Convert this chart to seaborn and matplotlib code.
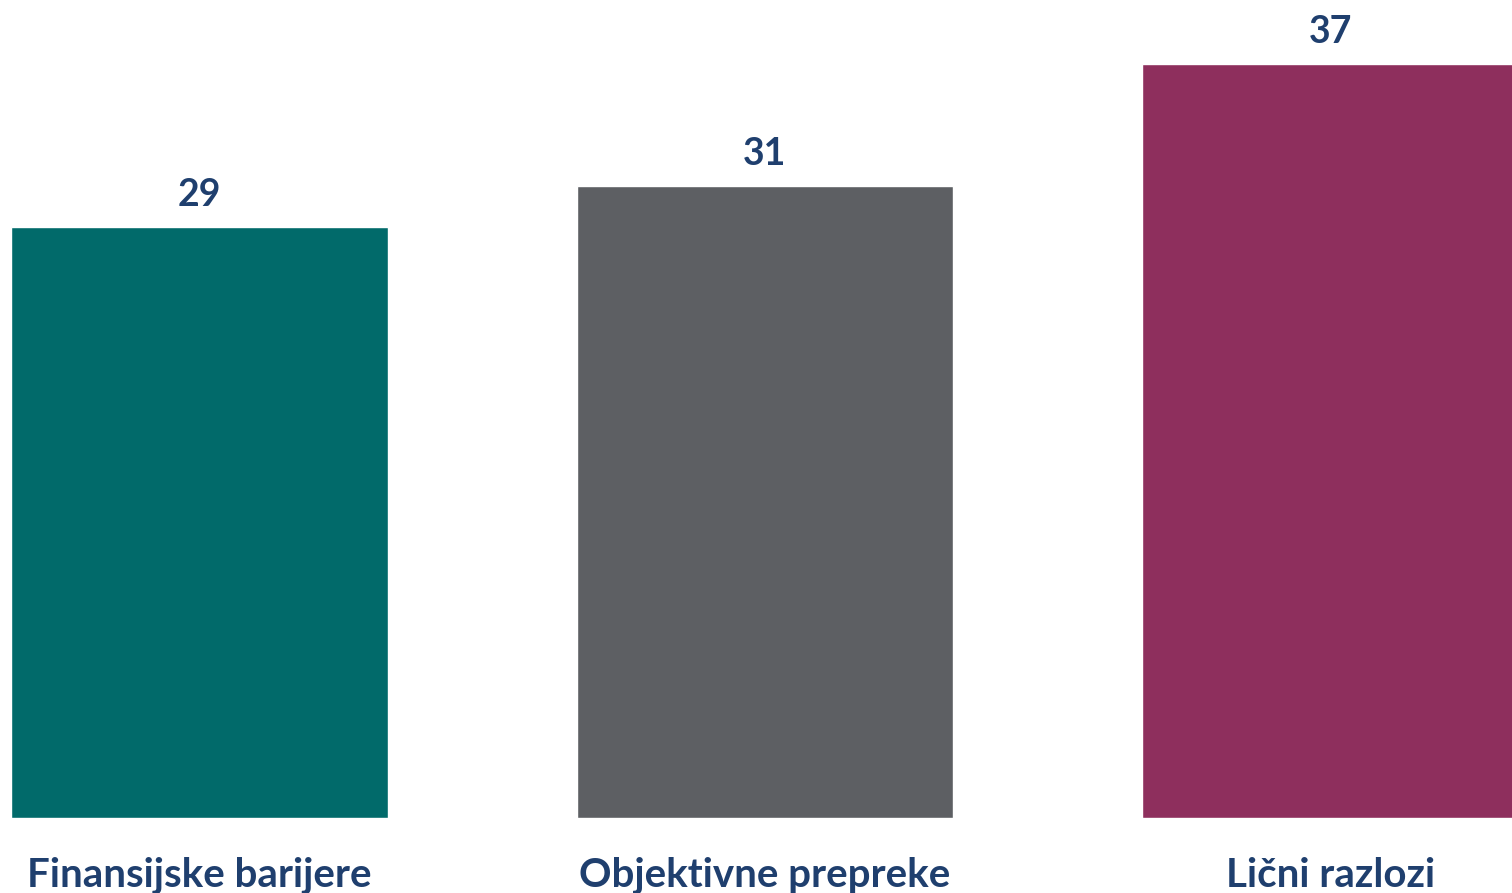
import matplotlib
matplotlib.use("Agg")
import matplotlib.pyplot as plt
import seaborn as sns
import pandas as pd

categories = ["Finansijske barijere", "Objektivne prepreke", "Lični razlozi"]
values = [29, 31, 37]
colors = ["#016A6A", "#5D5F63", "#8E2F5D"]
text_color = "#1F3F6E"

sns.set_theme(style="white")
plt.rcParams['font.family'] = ['Lato', 'DejaVu Sans']

df = pd.DataFrame({"cat": categories, "val": values})

fig = plt.figure(figsize=(15.12, 8.93), dpi=100)
ax = fig.add_axes([0, 0.084, 1, 0.916])
sns.barplot(data=df, x="cat", y="val", hue="cat", palette=colors, dodge=False,
            width=0.666, legend=False, ax=ax, saturation=1)

for c in ax.containers:
    ax.bar_label(c, fmt="%d", padding=11, fontsize=27, fontweight="bold", color=text_color)

ax.set_xlim(-0.3525, 2.3207)
ax.set_ylim(0, 40.15)
ax.set_xlabel("")
ax.set_ylabel("")
ax.set_yticks([])
ax.tick_params(axis="x", length=0, pad=28, labelsize=29, labelcolor=text_color)
for lbl in ax.get_xticklabels():
    lbl.set_fontweight("bold")
for s in ax.spines.values():
    s.set_visible(False)

fig.savefig("out.png", dpi=100, facecolor="white")
